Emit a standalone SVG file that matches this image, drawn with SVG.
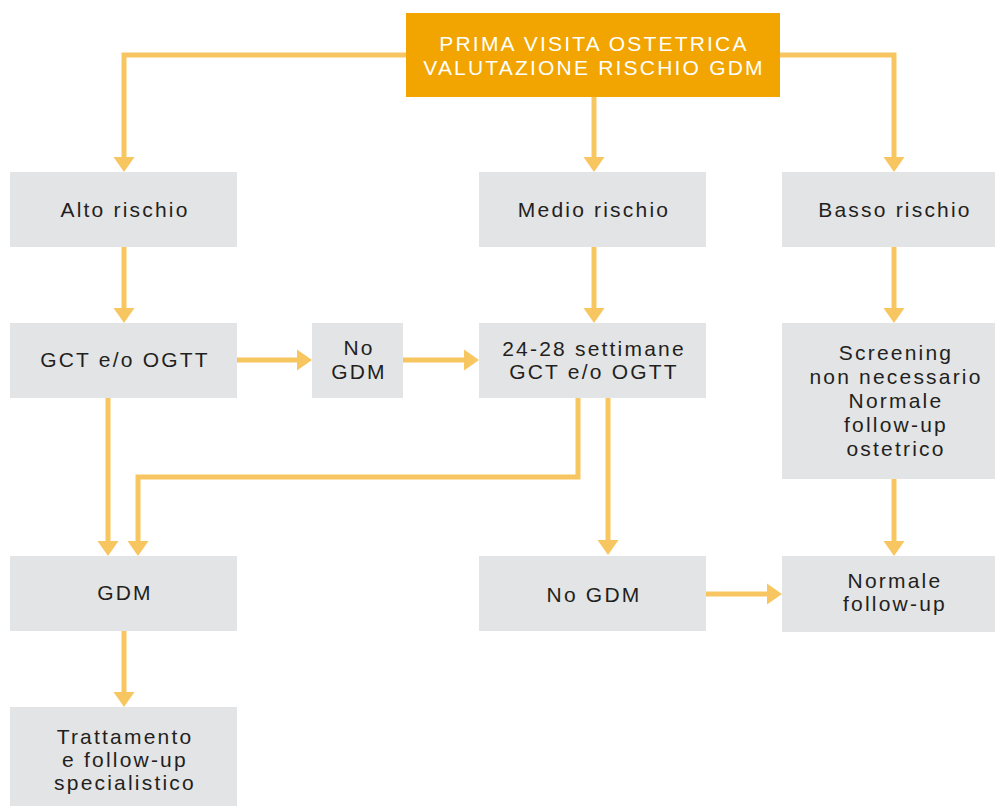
<svg xmlns="http://www.w3.org/2000/svg" width="995" height="806" viewBox="0 0 995 806">
<style>
.box{fill:#e3e4e6}
.top{fill:#f2a500}
text{font-family:"Liberation Sans",Arial,sans-serif;font-size:21px;letter-spacing:2.2px;fill:#231f20;text-anchor:middle}
.w{fill:#ffffff;font-size:21px;letter-spacing:2.2px}
.c{fill:none;stroke:#f8c661;stroke-width:5}
</style>
<defs>
<marker id="ah" viewBox="0 -11 15 22" refX="5" refY="0" markerWidth="15" markerHeight="22" markerUnits="userSpaceOnUse" orient="auto">
<path d="M0,-10.5 L15,0 L0,10.5 z" fill="#f8c661"/>
</marker>
</defs>
<rect width="995" height="806" fill="#ffffff"/>
<g id="connectors">
<path class="c" d="M406,55 H124 V162" marker-end="url(#ah)"/>
<path class="c" d="M780,55 H894 V162" marker-end="url(#ah)"/>
<path class="c" d="M594,97 V162" marker-end="url(#ah)"/>
<path class="c" d="M124,247 V313" marker-end="url(#ah)"/>
<path class="c" d="M594,247 V313" marker-end="url(#ah)"/>
<path class="c" d="M894,247 V313" marker-end="url(#ah)"/>
<path class="c" d="M237,360 H302" marker-end="url(#ah)"/>
<path class="c" d="M403,360 H469" marker-end="url(#ah)"/>
<path class="c" d="M108,398 V546" marker-end="url(#ah)"/>
<path class="c" d="M578,398 V477 H138 V546" marker-end="url(#ah)"/>
<path class="c" d="M608,398 V545" marker-end="url(#ah)"/>
<path class="c" d="M894,479 V546" marker-end="url(#ah)"/>
<path class="c" d="M706,594 H772" marker-end="url(#ah)"/>
<path class="c" d="M124,631 V697" marker-end="url(#ah)"/>
</g>
<g id="n-top"><rect class="top" x="406" y="13" width="374" height="84"/><text class="w" x="594" y="51">PRIMA VISITA OSTETRICA</text><text class="w" x="594" y="75">VALUTAZIONE RISCHIO GDM</text></g>
<g id="n-alto"><rect class="box" x="10" y="172" width="227" height="75"/><text x="125" y="217">Alto rischio</text></g>
<g id="n-medio"><rect class="box" x="479" y="172" width="227" height="75"/><text x="594" y="217">Medio rischio</text></g>
<g id="n-basso"><rect class="box" x="782" y="172" width="213" height="75"/><text x="895" y="217">Basso rischio</text></g>
<g id="n-gct"><rect class="box" x="10" y="323" width="227" height="75"/><text x="125" y="367">GCT e/o OGTT</text></g>
<g id="n-nogdm1"><rect class="box" x="312" y="323" width="91" height="75"/><text x="359" y="355">No</text><text x="359" y="379">GDM</text></g>
<g id="n-2428"><rect class="box" x="479" y="323" width="227" height="75"/><text x="594" y="356">24-28 settimane</text><text x="594" y="379">GCT e/o OGTT</text></g>
<g id="n-screening"><rect class="box" x="782" y="323" width="213" height="156"/><text x="896" y="360">Screening</text><text x="896" y="384">non necessario</text><text x="896" y="408">Normale</text><text x="896" y="432">follow-up</text><text x="896" y="456">ostetrico</text></g>
<g id="n-gdm"><rect class="box" x="10" y="556" width="227" height="75"/><text x="125" y="600">GDM</text></g>
<g id="n-nogdm2"><rect class="box" x="479" y="556" width="227" height="75"/><text x="594" y="602">No GDM</text></g>
<g id="n-normale"><rect class="box" x="782" y="556" width="213" height="76"/><text x="895" y="588">Normale</text><text x="895" y="611">follow-up</text></g>
<g id="n-tratt"><rect class="box" x="10" y="707" width="227" height="99"/><text x="125" y="744">Trattamento</text><text x="125" y="767">e follow-up</text><text x="125" y="790">specialistico</text></g>
</svg>
